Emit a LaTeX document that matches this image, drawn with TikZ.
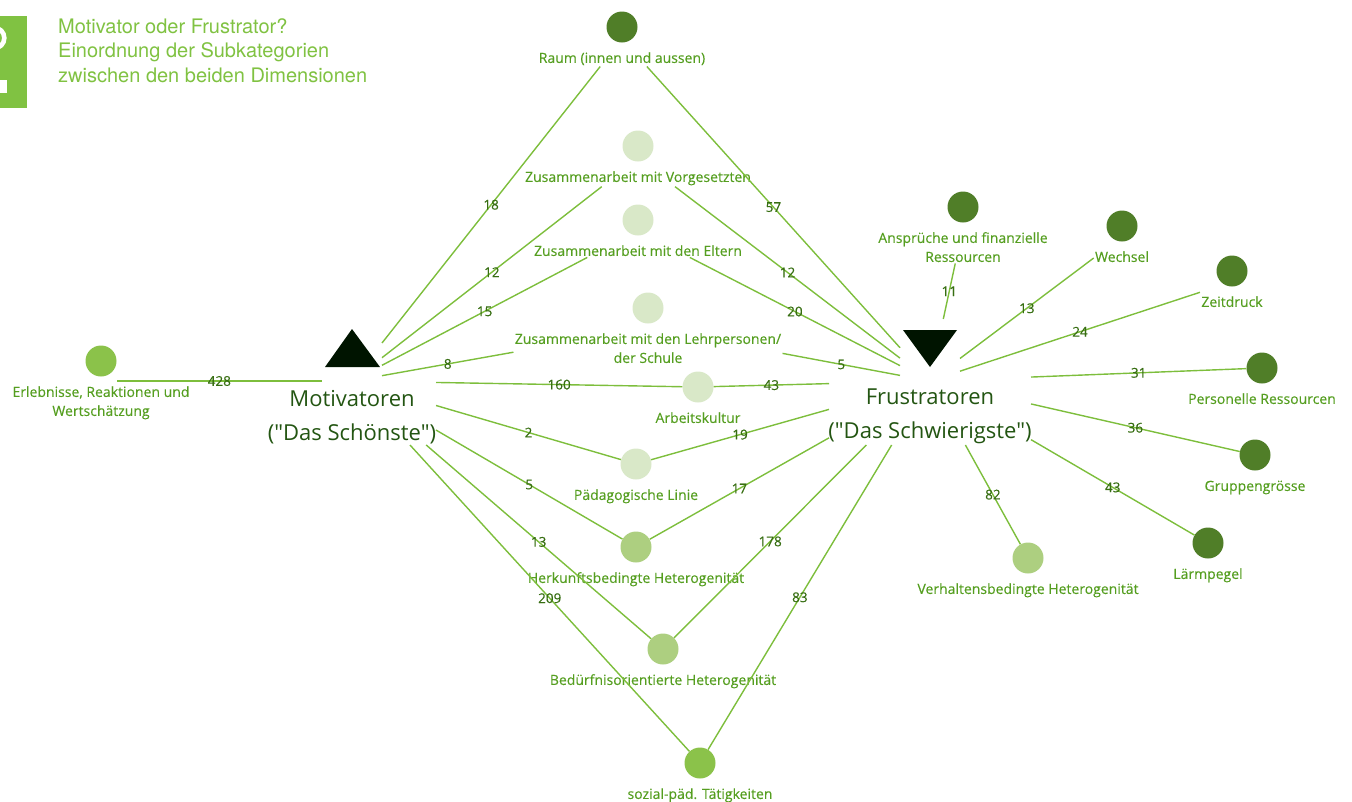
\documentclass[tikz,border=0pt]{standalone}
\usepackage{fontspec}
\setmainfont{Open Sans}
\newfontfamily\diafont{Open Sans}
\newfontfamily\labfont{Open Sans}[FakeBold=0.3]
\newfontfamily\titlefont{TeX Gyre Heros}
\usetikzlibrary{positioning, fit}

\definecolor{titlegreen}{RGB}{128,194,66}
\definecolor{linegreen}{RGB}{125,190,60}
\definecolor{labgreen}{RGB}{85,158,32}
\definecolor{numgreen}{RGB}{55,110,18}
\definecolor{hubgreen}{RGB}{35,85,18}
\definecolor{trifill}{RGB}{0,20,0}
\definecolor{catdark}{RGB}{80,126,40}
\definecolor{catmid}{RGB}{173,207,128}
\definecolor{catlight}{RGB}{217,232,200}
\definecolor{catlime}{RGB}{139,194,74}

\tikzset{
    cat/.style={circle, minimum size=31pt, inner sep=0pt},
    cattext/.style={text=labgreen, font=\labfont\fontsize{14}{19}\selectfont,
        align=center, inner sep=1pt, text height=11pt},
    cattext2/.style={cattext, text height=30pt},
    grp/.style={inner sep=0pt},
    hubbox/.style={inner sep=0pt, outer sep=0pt},
    hubtext/.style={text=hubgreen, font=\diafont\fontsize{22}{34}\selectfont, align=center},
    edge/.style={draw=linegreen, line width=1.4pt},
    num/.style={text=numgreen, font=\labfont\fontsize{13.5}{13.5}\selectfont, inner sep=0pt}
}

\begin{document}
\begin{tikzpicture}[x=1pt, y=-1pt]
    \useasboundingbox (0,0) rectangle (1352,801);

    % badge and title
    \fill[titlegreen] (0,16) rectangle (27,108);
    \begin{scope}
        \clip (0,16) rectangle (27,108);
        \fill[white, even odd rule] (-6,38) circle (12.7) (-6,38) circle (8);
        \fill[white] (0,80) rectangle (6.5,93);
    \end{scope}
    \node[anchor=north west, inner sep=0pt, align=left, text=titlegreen,
        font=\titlefont\fontsize{20}{24.5}\selectfont] (title) at (58,18)
        {Motivator oder Frustrator?\\Einordnung der Subkategorien\\zwischen den beiden Dimensionen};

    % the two dimensions
    \fill[trifill] (325,367) -- (352,329) -- (380,367) -- cycle;
    \fill[trifill] (903,330) -- (957,330) -- (930,367) -- cycle;
    \node[hubtext] (mot) at (352,417) {Motivatoren\\("Das Schönste")};
    \node[hubtext] (fru) at (930,416) {Frustratoren\\("Das Schwierigste")};
    \node[hubbox, minimum width=60, minimum height=124] (mot-a) at (352,381) {};
    \node[hubbox, minimum width=168, minimum height=128] (mot-b) at (352,381) {};
    \node[hubbox, minimum width=60, minimum height=124] (fru-a) at (930,381) {};
    \node[hubbox, minimum width=202, minimum height=128] (fru-b) at (930,381) {};

    % subcategories
    \node[cat, fill=catdark] (raum) at (622,27) {};
    \node[cattext, below=8pt of raum] (raum-t) {Raum (innen und aussen)};
    \node[grp, fit=(raum)(raum-t)] (raum-g) {};
    \node[cat, fill=catlight] (vorg) at (638,146) {};
    \node[cattext, below=8pt of vorg] (vorg-t) {Zusammenarbeit mit Vorgesetzten};
    \node[grp, fit=(vorg)(vorg-t)] (vorg-g) {};
    \node[cat, fill=catlight] (eltern) at (638,220) {};
    \node[cattext, below=8pt of eltern] (eltern-t) {Zusammenarbeit mit den Eltern};
    \node[grp, fit=(eltern)(eltern-t)] (eltern-g) {};
    \node[cat, fill=catlight] (lehr) at (648,308) {};
    \node[cattext2, below=8pt of lehr] (lehr-t) {Zusammenarbeit mit den Lehrpersonen/\\der Schule};
    \node[grp, fit=(lehr)(lehr-t)] (lehr-g) {};
    \node[cat, fill=catlight] (arbeit) at (698,387) {};
    \node[cattext, below=8pt of arbeit] (arbeit-t) {Arbeitskultur};
    \node[cat, fill=catlight] (paed) at (636,464) {};
    \node[cattext, below=8pt of paed] (paed-t) {Pädagogische Linie};
    \node[cat, fill=catmid] (herk) at (636,547) {};
    \node[cattext, below=8pt of herk] (herk-t) {Herkunftsbedingte Heterogenität};
    \node[cat, fill=catmid] (bed) at (663,649) {};
    \node[cattext, below=8pt of bed] (bed-t) {Bedürfnisorientierte Heterogenität};
    \node[cat, fill=catlime] (sozial) at (700,763) {};
    \node[cattext, below=8pt of sozial] (sozial-t) {sozial-päd. Tätigkeiten};
    \node[cat, fill=catlime] (erleb) at (101,361) {};
    \node[cattext2, below=8pt of erleb] (erleb-t) {Erlebnisse, Reaktionen und\\Wertschätzung};
    \node[cat, fill=catdark] (anspr) at (963,207) {};
    \node[cattext2, below=8pt of anspr] (anspr-t) {Ansprüche und finanzielle\\Ressourcen};
    \node[grp, fit=(anspr)(anspr-t)] (anspr-g) {};
    \node[cat, fill=catdark] (wechsel) at (1122,226) {};
    \node[cattext, below=8pt of wechsel] (wechsel-t) {Wechsel};
    \node[grp, fit=(wechsel)(wechsel-t)] (wechsel-g) {};
    \node[cat, fill=catdark] (zeit) at (1232,271) {};
    \node[cattext, below=8pt of zeit] (zeit-t) {Zeitdruck};
    \node[grp, fit=(zeit)(zeit-t)] (zeit-g) {};
    \node[cat, fill=catdark] (pers) at (1262,368) {};
    \node[cattext, below=8pt of pers] (pers-t) {Personelle Ressourcen};
    \node[cat, fill=catdark] (grup) at (1255,455) {};
    \node[cattext, below=8pt of grup] (grup-t) {Gruppengrösse};
    \node[cat, fill=catdark] (laerm) at (1208,543) {};
    \node[cattext, below=8pt of laerm] (laerm-t) {Lärmpegel};
    \node[cat, fill=catmid] (verh) at (1028,558) {};
    \node[cattext, below=8pt of verh] (verh-t) {Verhaltensbedingte Heterogenität};

    % Motivatoren
    \draw[edge] (mot-a) -- node[num]{18} (raum-g);
    \draw[edge] (mot-a) -- node[num]{12} (vorg-g);
    \draw[edge] (mot-a) -- node[num]{15} (eltern-g);
    \draw[edge] (mot-a) -- node[num]{8} (lehr-g);
    \draw[edge] (mot-b) -- node[num]{160} (arbeit);
    \draw[edge] (mot-b) -- node[num]{2} (paed);
    \draw[edge] (mot-b) -- node[num]{5} (herk);
    \draw[edge] (mot-b) -- node[num]{13} (bed);
    \draw[edge] (mot-b) -- node[num]{209} (sozial);
    \draw[edge] (mot-a.west) -- node[num]{428} (erleb.east |- mot-a.west);

    % Frustratoren
    \draw[edge] (fru-a) -- node[num]{57} (raum-g);
    \draw[edge] (fru-a) -- node[num]{12} (vorg-g);
    \draw[edge] (fru-a) -- node[num]{20} (eltern-g);
    \draw[edge] (fru-a) -- node[num]{5} (lehr-g);
    \draw[edge] (fru-b) -- node[num]{43} (arbeit);
    \draw[edge] (fru-b) -- node[num]{19} (paed);
    \draw[edge] (fru-b) -- node[num]{17} (herk);
    \draw[edge] (fru-b) -- node[num]{178} (bed);
    \draw[edge] (fru-b) -- node[num]{83} (sozial);
    \draw[edge] (fru-a) -- node[num]{11} (anspr-g);
    \draw[edge] (fru-a) -- node[num]{13} (wechsel-g);
    \draw[edge] (fru-a) -- node[num]{24} (zeit-g);
    \draw[edge] (fru-b) -- node[num]{31} (pers);
    \draw[edge] (fru-b) -- node[num]{36} (grup);
    \draw[edge] (fru-b) -- node[num]{43} (laerm);
    \draw[edge] (fru-b) -- node[num]{82} (verh);
\end{tikzpicture}
\end{document}
